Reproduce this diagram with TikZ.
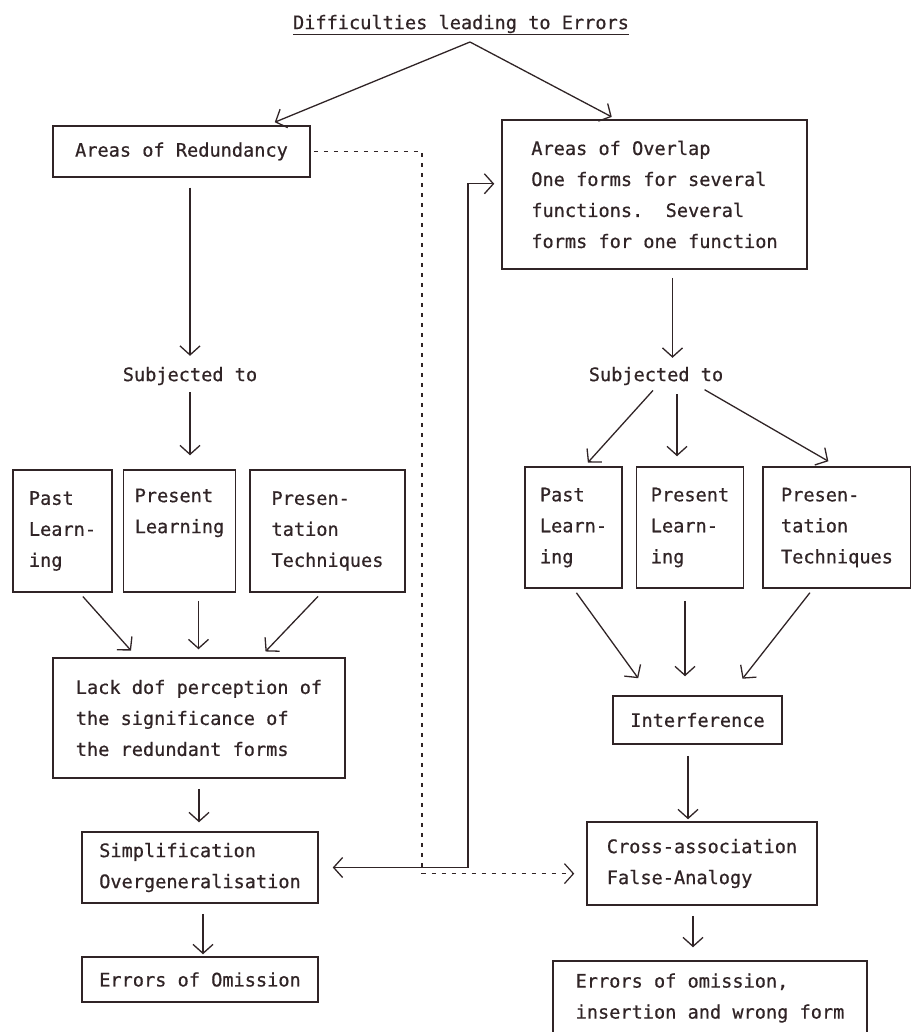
\documentclass[tikz,border=0pt]{standalone}
\usepackage{fontspec}
\setmainfont{DejaVu Sans Mono}[FakeBold=0.6]
\usetikzlibrary{positioning,arrows.meta}
\definecolor{ink}{RGB}{48,36,38}
\tikzset{
  box/.style={rectangle, draw=ink, line width=1.5pt, align=left, inner sep=0pt, text=ink},
  lbl/.style={rectangle, inner sep=3pt, text=ink},
  flow/.style={->, draw=ink, line width=1.3pt},
  link/.style={->, draw=ink, line width=1.2pt, dash pattern=on 4pt off 6pt}
}

\begin{document}
\begin{tikzpicture}[x=1pt, y=-1pt, >={Straight Barb[length=9pt,width=20pt]},
  font=\fontsize{18.6}{31}\selectfont]
\useasboundingbox (0,0) rectangle (910,1032);

\path (470,42) coordinate (apex);
\path (468,0) coordinate (bus);
\path (422,0) coordinate (dots);

\node [lbl] (title) at (461,25) {\underline{Difficulties leading to Errors}};

\node [box, minimum width=257pt, minimum height=51pt] (red) at (181.5,151.5) {Areas of Redundancy};
\node [lbl] (subL) at (190,376) {Subjected to};
\node [box, minimum width=99pt, minimum height=122pt] (pastL) at (62.5,531) {Past\\Learn-\\ing};
\node [box, minimum width=112pt, minimum height=122pt, right=10pt of pastL] (presL) {Present\\Learning\\\strut};
\node [box, minimum width=155pt, minimum height=122pt, right=13pt of presL] (techL) {Presen-\\tation\\Techniques};
\node [box, minimum width=292pt, minimum height=120pt] (lack) at (199,718) {Lack dof perception of\\the significance of\\the redundant forms};
\node [box, minimum width=236pt, minimum height=71pt] (simp) at (200,867.5) {Simplification\\Overgeneralisation};
\node [box, minimum width=236pt, minimum height=45pt] (omL) at (200,979.5) {Errors of Omission};

\node [box, minimum width=305pt, minimum height=149pt] (ovl) at (654.5,194.5) {Areas of Overlap\\One forms for several\\functions.\ \ Several\\forms for one function};
\node [lbl] (subR) at (656,376) {Subjected to};
\node [box, minimum width=97pt, minimum height=121pt] (pastR) at (573.5,527.5) {Past\\Learn-\\ing};
\node [box, minimum width=107pt, minimum height=121pt, right=13pt of pastR] (presR) {Present\\Learn-\\ing};
\node [box, minimum width=148pt, minimum height=121pt, right=18pt of presR] (techR) {Presen-\\tation\\Techniques};
\node [box, minimum width=169pt, minimum height=48pt] (intf) at (697.5,720) {Interference};
\node [box, minimum width=230pt, minimum height=83pt] (cross) at (702,863.5) {Cross-association\\False-Analogy};
\node [box, minimum width=314pt, minimum height=74pt] (omR) at (710,998) {Errors of omission,\\insertion and wrong form};

\draw [flow, shorten >=8pt] (apex) -- (red.17);
\draw [flow, shorten >=5pt] (apex) -- (ovl.117);

\draw [flow, shorten <=10pt, shorten >=8pt] (red.south -| subL) -- (subL.north);
\draw [flow, shorten <=4pt, shorten >=14pt] (subL.south) -- (subL.south |- presL.north);
\draw [flow, shorten <=5pt, shorten >=9pt] ([xshift=17pt]pastL.south) -- ([xshift=-62pt]lack.north);
\draw [flow, shorten <=8pt, shorten >=8pt] ([xshift=19pt]presL.south) -- ([xshift=19pt]presL.south |- lack.north);
\draw [flow, shorten <=5pt, shorten >=8pt] ([xshift=-6pt]techL.south) -- ([xshift=61pt]lack.north);
\draw [flow, shorten <=10pt, shorten >=9pt] (lack.south) -- (lack.south |- simp.north);
\draw [flow, shorten <=10pt, shorten >=2pt] ([xshift=3pt]simp.south) -- ([xshift=3pt]omL.north);

\draw [flow, shorten <=8pt, shorten >=6pt] ([xshift=18pt]ovl.south) -- ([xshift=18pt]ovl.south |- subR.north);
\draw [flow, shorten <=3pt, shorten >=5pt] ([xshift=-1pt]subR.south) -- ([xshift=11pt]pastR.north);
\draw [flow, shorten <=6pt, shorten >=10pt] ([xshift=21pt]subR.south) -- ([xshift=21pt]subR.south |- presR.north);
\draw [flow, shorten <=3pt, shorten >=10pt] ([xshift=46pt]subR.south) -- (techR.north);
\draw [flow, shorten <=5pt, shorten >=21pt] (pastR.south) -- ([xshift=-47pt]intf.north);
\draw [flow, shorten <=12pt, shorten >=19pt] ([xshift=-5pt]presR.south) -- ([xshift=-5pt]presR.south |- intf.north);
\draw [flow, shorten <=5pt, shorten >=21pt] ([xshift=-24pt]techR.south) -- ([xshift=32pt]intf.north);
\draw [flow, shorten <=11pt, shorten >=2pt] ([xshift=-9.5pt]intf.south) -- ([xshift=-9.5pt]intf.south |- cross.north);
\draw [flow, shorten <=10pt, shorten >=13pt] ([xshift=-9pt]cross.south) -- ([xshift=-9pt]cross.south |- omR.north);

\draw [flow, <->, shorten <=14pt, shorten >=7pt] (simp.east) -- (simp.east -| bus) |- (ovl.176);
\draw [link, shorten <=3pt, shorten >=12pt] (red.east) -- (red.east -| dots) -- (dots |- cross.185) -- (cross.185);

\end{tikzpicture}
\end{document}
